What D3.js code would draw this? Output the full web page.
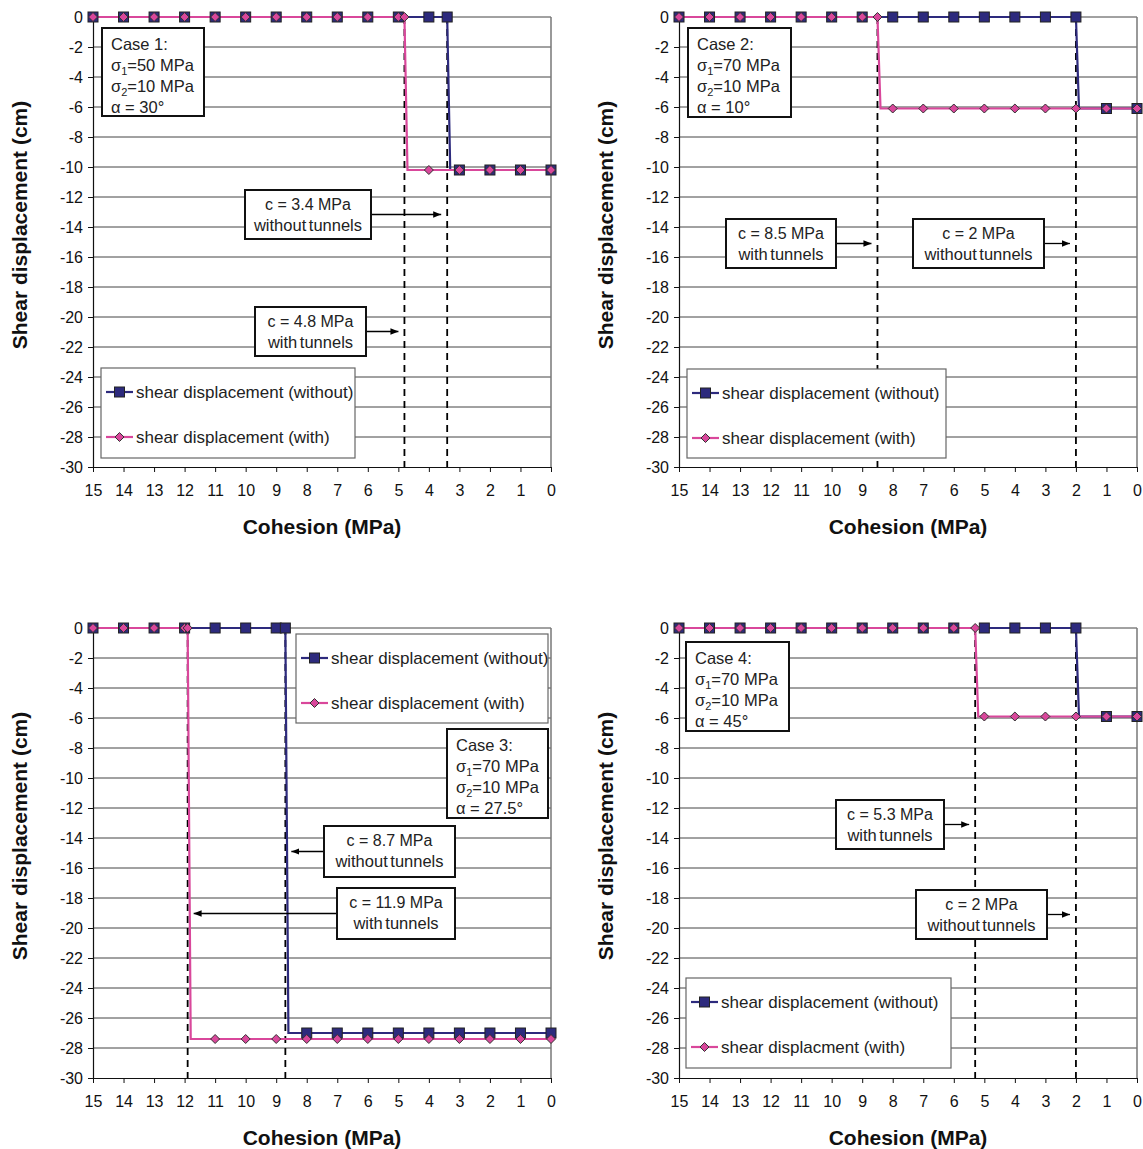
<!DOCTYPE html>
<html>
<head>
<meta charset="utf-8">
<script src="https://cdn.jsdelivr.net/npm/d3@7"></script>
<style>
  body { margin: 0; background: #fff; }
  svg { font-family: "Liberation Sans", Arial, sans-serif; }
</style>
</head>
<body>
<script>
// cohesion ticks and displacement ticks
const cohesionTicks = [15,14,13,12,11,10,9,8,7,6,5,4,3,2,1,0];
const dispTicks = [0,-2,-4,-6,-8,-10,-12,-14,-16,-18,-20,-22,-24,-26,-28,-30];

// case 1
const case1WithoutX = [15,14,13,12,11,10,9,8,7,6,5,4,3.4,3.3,3,2,1,0];
const case1WithoutY = [0,0,0,0,0,0,0,0,0,0,0,0,0,-10.2,-10.2,-10.2,-10.2,-10.2];
const case1WithX = [15,14,13,12,11,10,9,8,7,6,5,4.8,4.7,4,3,2,1,0];
const case1WithY = [0,0,0,0,0,0,0,0,0,0,0,0,-10.2,-10.2,-10.2,-10.2,-10.2,-10.2];
const case1Crit = [4.8, 3.4];

// case 2
const case2WithoutX = [15,14,13,12,11,10,9,8,7,6,5,4,3,2,1.9,1,0];
const case2WithoutY = [0,0,0,0,0,0,0,0,0,0,0,0,0,0,-6.1,-6.1,-6.1];
const case2WithX = [15,14,13,12,11,10,9,8.5,8.4,8,7,6,5,4,3,2,1,0];
const case2WithY = [0,0,0,0,0,0,0,0,-6.1,-6.1,-6.1,-6.1,-6.1,-6.1,-6.1,-6.1,-6.1,-6.1];
const case2Crit = [8.5, 2];

// case 3
const case3WithoutX = [15,14,13,12,11,10,9,8.7,8.6,8,7,6,5,4,3,2,1,0];
const case3WithoutY = [0,0,0,0,0,0,0,0,-27,-27,-27,-27,-27,-27,-27,-27,-27,-27];
const case3WithX = [15,14,13,12,11.9,11.8,11,10,9,8,7,6,5,4,3,2,1,0];
const case3WithY = [0,0,0,0,0,-27.4,-27.4,-27.4,-27.4,-27.4,-27.4,-27.4,-27.4,-27.4,-27.4,-27.4,-27.4,-27.4];
const case3Crit = [11.9, 8.7];

// case 4
const case4WithoutX = [15,14,13,12,11,10,9,8,7,6,5,4,3,2,1.9,1,0];
const case4WithoutY = [0,0,0,0,0,0,0,0,0,0,0,0,0,0,-5.9,-5.9,-5.9];
const case4WithX = [15,14,13,12,11,10,9,8,7,6,5.3,5.2,5,4,3,2,1,0];
const case4WithY = [0,0,0,0,0,0,0,0,0,0,0,-5.9,-5.9,-5.9,-5.9,-5.9,-5.9,-5.9];
const case4Crit = [5.3, 2];

const blue = "#2d2a7d", pink = "#d9479b";
const W = 1143, H = 1149, pw = 458, ph = 450;

const svg = d3.select("body").append("svg").attr("width", W).attr("height", H);

const defs = svg.append("defs");
defs.append("marker").attr("id", "arr").attr("viewBox", "0 0 10 10")
  .attr("refX", 10).attr("refY", 5).attr("markerWidth", 8).attr("markerHeight", 8)
  .attr("markerUnits", "userSpaceOnUse").attr("orient", "auto")
  .append("path").attr("d", "M0,1 L10,5 L0,9 Z").attr("fill", "#000");

const panels = [
  { left: 93, top: 17, wx: case1WithoutX, wy: case1WithoutY, tx: case1WithX, ty: case1WithY, crit: case1Crit,
    caseBox: { x: 9, y: 11, w: 102, h: 88, title: "Case 1:", s1: "50", s2: "10", a: "30°" },
    notes: [
      { x: 152, y: 173, w: 126, h: 49, l1: "c = 3.4 MPa", l2: "without tunnels", c: 3.4, dir: 1 },
      { x: 162, y: 290, w: 111, h: 49, l1: "c = 4.8 MPa", l2: "with tunnels", c: 4.8, dir: 1 }
    ],
    legend: { x: 8, y: 351, w: 254, h: 90, t2: "shear displacement (with)" } },
  { left: 679, top: 17, wx: case2WithoutX, wy: case2WithoutY, tx: case2WithX, ty: case2WithY, crit: case2Crit,
    caseBox: { x: 9, y: 11, w: 103, h: 89, title: "Case 2:", s1: "70", s2: "10", a: "10°" },
    notes: [
      { x: 47, y: 202, w: 110, h: 49, l1: "c = 8.5 MPa", l2: "with tunnels", c: 8.5, dir: 1 },
      { x: 234, y: 202, w: 131, h: 49, l1: "c = 2 MPa", l2: "without tunnels", c: 2, dir: 1 }
    ],
    legend: { x: 8, y: 352, w: 259, h: 89, t2: "shear displacement (with)" } },
  { left: 93, top: 628, wx: case3WithoutX, wy: case3WithoutY, tx: case3WithX, ty: case3WithY, crit: case3Crit,
    caseBox: { x: 354, y: 101, w: 101, h: 89, title: "Case 3:", s1: "70", s2: "10", a: "27.5°" },
    notes: [
      { x: 231, y: 198, w: 131, h: 51, l1: "c = 8.7 MPa", l2: "without tunnels", c: 8.7, dir: -1 },
      { x: 244, y: 260, w: 118, h: 51, l1: "c = 11.9 MPa", l2: "with tunnels", c: 11.9, dir: -1 }
    ],
    legend: { x: 203, y: 6, w: 252, h: 89, t2: "shear displacement (with)" } },
  { left: 679, top: 628, wx: case4WithoutX, wy: case4WithoutY, tx: case4WithX, ty: case4WithY, crit: case4Crit,
    caseBox: { x: 7, y: 14, w: 103, h: 89, title: "Case 4:", s1: "70", s2: "10", a: "45°" },
    notes: [
      { x: 157, y: 172, w: 108, h: 49, l1: "c = 5.3 MPa", l2: "with tunnels", c: 5.3, dir: 1 },
      { x: 237, y: 262, w: 131, h: 49, l1: "c = 2 MPa", l2: "without tunnels", c: 2, dir: 1 }
    ],
    legend: { x: 7, y: 350, w: 265, h: 90, t2: "shear displacment (with)" } }
];

function drawSquare(g, x, y) {
  g.append("rect").attr("x", x - 5).attr("y", y - 5).attr("width", 10).attr("height", 10)
    .attr("fill", blue).attr("stroke", "#222").attr("stroke-width", 1);
}
function drawDiamond(g, x, y) {
  g.append("path").attr("d", `M${x},${y - 4.5}L${x + 4.5},${y}L${x},${y + 4.5}L${x - 4.5},${y}Z`)
    .attr("fill", pink).attr("stroke", "#333").attr("stroke-width", 1);
}

panels.forEach(p => {
  const g = svg.append("g").attr("transform", `translate(${p.left},${p.top})`);
  const x = d3.scaleLinear().domain([15, 0]).range([0, pw]);
  const y = d3.scaleLinear().domain([-30, 0]).range([ph, 0]);

  // grid
  g.append("g").selectAll("line").data(dispTicks.filter(d => d !== -30)).join("line")
    .attr("x1", 0).attr("x2", pw).attr("y1", d => y(d)).attr("y2", d => y(d))
    .attr("stroke", "#444").attr("stroke-width", 1);
  g.append("line").attr("x1", pw).attr("x2", pw).attr("y1", 0).attr("y2", ph)
    .attr("stroke", "#777").attr("stroke-width", 1.5);

  // axes
  const ya = g.append("g").call(d3.axisLeft(y).tickValues(dispTicks).tickFormat(d => String(d))
    .tickSize(5).tickPadding(5).tickSizeOuter(0));
  const xa = g.append("g").attr("transform", `translate(0,${ph})`)
    .call(d3.axisBottom(x).tickValues(cohesionTicks).tickFormat(d => String(d))
      .tickSize(5).tickPadding(13).tickSizeOuter(0));
  [ya, xa].forEach(a => {
    a.selectAll("text").attr("font-size", 16).attr("fill", "#111")
      .attr("font-family", "'Liberation Sans', Arial, sans-serif");
    a.selectAll("line").attr("stroke", "#111");
    a.select(".domain").attr("stroke", "#111").attr("stroke-width", 1.2);
  });

  g.append("text").attr("transform", `translate(${-66},${208}) rotate(-90)`)
    .attr("text-anchor", "middle").attr("font-size", 21).attr("font-weight", "bold").attr("fill", "#111")
    .text("Shear displacement (cm)");
  g.append("text").attr("x", pw / 2).attr("y", ph + 67)
    .attr("text-anchor", "middle").attr("font-size", 21).attr("font-weight", "bold").attr("fill", "#111")
    .text("Cohesion (MPa)");

  // dashed critical lines
  g.append("g").selectAll("line").data(p.crit).join("line")
    .attr("x1", d => x(d)).attr("x2", d => x(d)).attr("y1", 0).attr("y2", ph)
    .attr("stroke", "#000").attr("stroke-width", 1.8).attr("stroke-dasharray", "7,5");

  // series
  const line = d3.line().x(d => x(d[0])).y(d => y(d[1]));
  const wPts = p.wx.map((v, i) => [v, p.wy[i]]);
  const tPts = p.tx.map((v, i) => [v, p.ty[i]]);
  const hasMarker = d => Number.isInteger(d[0]) || p.crit.includes(d[0]);
  g.append("path").datum(wPts).attr("d", line).attr("fill", "none").attr("stroke", blue).attr("stroke-width", 2.2);
  g.append("path").datum(tPts).attr("d", line).attr("fill", "none").attr("stroke", pink).attr("stroke-width", 2.2);
  const mg = g.append("g");
  wPts.filter(hasMarker).forEach(d => drawSquare(mg, x(d[0]), y(d[1])));
  tPts.filter(hasMarker).forEach(d => drawDiamond(mg, x(d[0]), y(d[1])));

  // case box
  const cb = p.caseBox;
  const cg = g.append("g").attr("transform", `translate(${cb.x},${cb.y})`);
  cg.append("rect").attr("width", cb.w).attr("height", cb.h).attr("fill", "#fff").attr("stroke", "#111").attr("stroke-width", 2);
  const ct = cg.append("text").attr("font-size", 16.5).attr("fill", "#222");
  ct.append("tspan").attr("x", 9).attr("y", 22).text(cb.title);
  const l2 = ct.append("tspan").attr("x", 9).attr("y", 43);
  l2.append("tspan").text("σ");
  l2.append("tspan").attr("font-size", 11).attr("dy", 4).text("1");
  l2.append("tspan").attr("dy", -4).text(`=${cb.s1} MPa`);
  const l3 = ct.append("tspan").attr("x", 9).attr("y", 64);
  l3.append("tspan").text("σ");
  l3.append("tspan").attr("font-size", 11).attr("dy", 4).text("2");
  l3.append("tspan").attr("dy", -4).text(`=${cb.s2} MPa`);
  ct.append("tspan").attr("x", 9).attr("y", 85).text(`α = ${cb.a}`);

  // notes with arrows
  p.notes.forEach(n => {
    const ng = g.append("g");
    const cy = n.y + n.h / 2;
    const x0 = n.dir > 0 ? n.x + n.w : n.x;
    const x1 = x(n.c) - n.dir * 6;
    ng.append("line").attr("x1", x0).attr("x2", x1).attr("y1", cy).attr("y2", cy)
      .attr("stroke", "#000").attr("stroke-width", 1.3).attr("marker-end", "url(#arr)");
    ng.append("rect").attr("x", n.x).attr("y", n.y).attr("width", n.w).attr("height", n.h)
      .attr("fill", "#fff").attr("stroke", "#111").attr("stroke-width", 2);
    ng.append("text").attr("x", n.x + n.w / 2).attr("y", n.y + 20).attr("text-anchor", "middle")
      .attr("font-size", 16).attr("fill", "#222").text(n.l1);
    ng.append("text").attr("x", n.x + n.w / 2).attr("y", n.y + 41).attr("text-anchor", "middle")
      .attr("font-size", 16.5).attr("fill", "#222").attr("word-spacing", -2).text(n.l2);
  });

  // legend
  const lg = p.legend;
  const leg = g.append("g").attr("transform", `translate(${lg.x},${lg.y})`);
  leg.append("rect").attr("width", lg.w).attr("height", lg.h).attr("fill", "#fff").attr("stroke", "#666").attr("stroke-width", 1.2);
  [{ c: blue, t: "shear displacement (without)", yy: 24, m: drawSquare },
   { c: pink, t: lg.t2, yy: 69, m: drawDiamond }].forEach(e => {
    leg.append("line").attr("x1", 5).attr("x2", 32).attr("y1", e.yy).attr("y2", e.yy).attr("stroke", e.c).attr("stroke-width", 2.2);
    e.m(leg, 18.5, e.yy);
    leg.append("text").attr("x", 35).attr("y", e.yy + 6).attr("font-size", 17).attr("fill", "#222").text(e.t);
  });
});
</script>
</body>
</html>
